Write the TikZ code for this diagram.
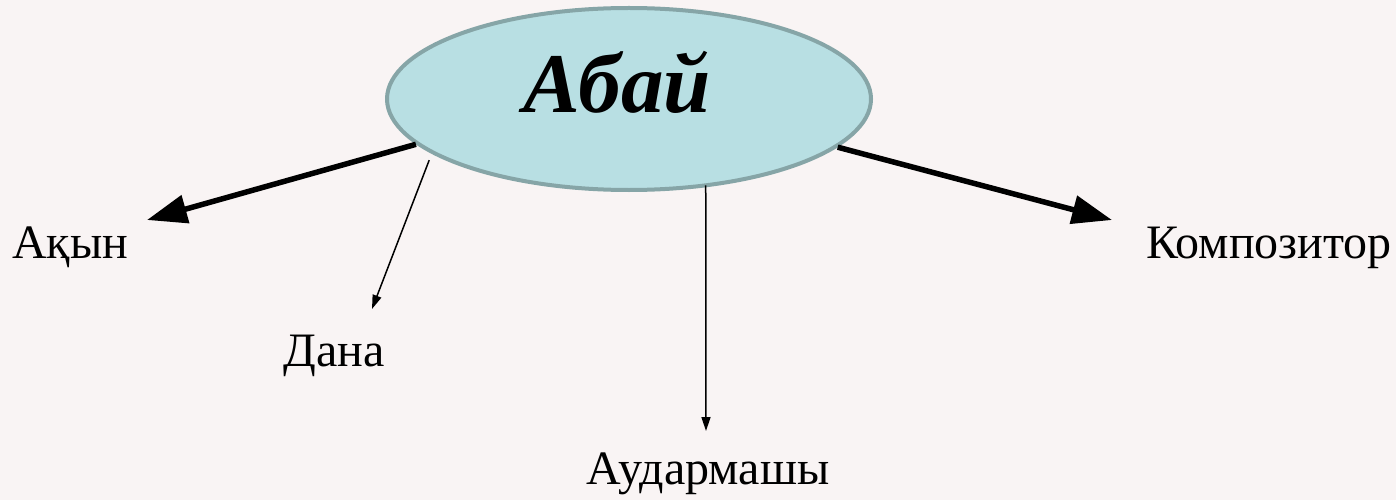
\documentclass[tikz,border=0pt]{standalone}
\usepackage{fontspec}
\setmainfont{Liberation Serif}
\usetikzlibrary{shapes.geometric,arrows.meta}
\definecolor{bgc}{HTML}{F9F4F4}
\definecolor{ellfill}{HTML}{B8DFE3}
\definecolor{elldraw}{HTML}{86A5A7}
\tikzset{
  mainell/.style={ellipse, draw=elldraw, fill=ellfill, line width=4pt, minimum width=484pt, minimum height=182pt, inner sep=0pt},
  lbl/.style={anchor=base, inner sep=0pt, font=\fontsize{48}{50}\selectfont},
  bigarrow/.style={line width=5.5pt, -{Triangle[length=40pt,width=28pt]}},
  thinarrow/.style={line width=1.5pt, -{Triangle[length=14pt,width=9pt]}}
}
\begin{document}
\begin{tikzpicture}[x=1pt,y=-1pt]
\fill[bgc] (0,0) rectangle (1396,500);
\useasboundingbox (0,0) rectangle (1396,500);
\node[mainell] (abai) at (629,99) {};
\node[anchor=base, inner sep=0pt, font=\fontsize{85}{90}\selectfont\bfseries\itshape] (abaitext) at (617,113) {Абай};
\node[lbl] (akyn) at (70,258) {Ақын};
\node[lbl] (dana) at (334,366) {Дана};
\node[lbl] (aud) at (708,484) {Аудармашы};
\node[lbl] (komp) at (1269,258) {Композитор};
\coordinate (tAkyn) at (147,220);
\coordinate (tDana) at (372,309);
\coordinate (tAud) at (706,431);
\coordinate (tKomp) at (1112,220);
\draw[bigarrow] (abai.192.2) -- (tAkyn);
\draw[bigarrow] (abai.347.7) -- (tKomp);
\draw[thinarrow] ([shift={(-9.5,3)}]abai.197.3) -- (tDana);
\draw[thinarrow] ([yshift=2pt]abai.-49.8) -- (tAud);
\end{tikzpicture}
\end{document}
